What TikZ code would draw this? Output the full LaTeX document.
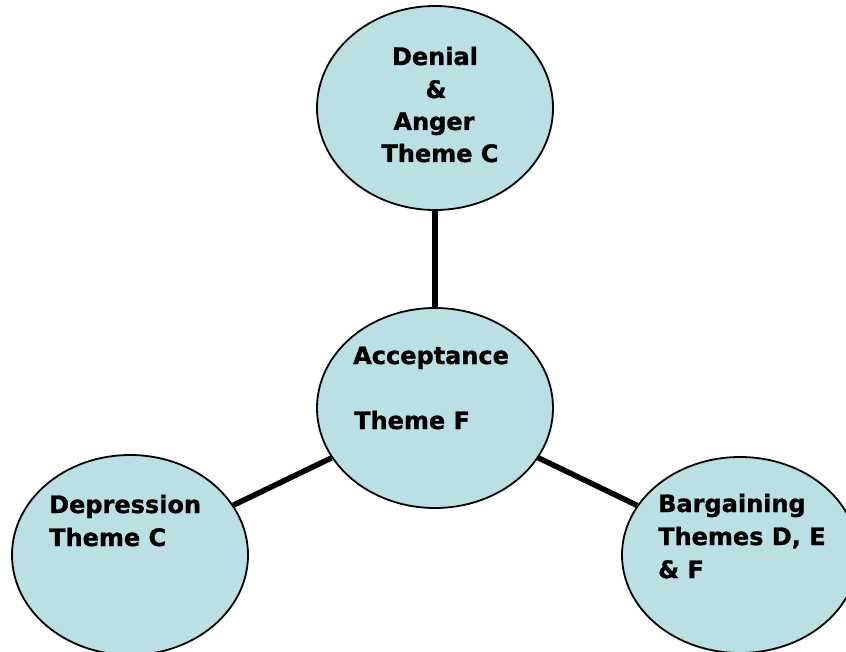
\documentclass[tikz,border=0pt]{standalone}
\usepackage{fontspec}
\setmainfont{DejaVu Sans}[BoldFeatures={FakeBold=1.2}]
\usetikzlibrary{shapes.geometric}
\definecolor{stagefill}{HTML}{BBE0E3}
\tikzset{
  stage/.style={ellipse, draw=black, line width=1.8pt, fill=stagefill, inner sep=0pt,
    minimum width=236pt, minimum height=200pt},
  link/.style={line width=5.5pt, black},
  lbl/.style={font=\fontsize{24}{32.5}\selectfont\bfseries, inner sep=0pt, text=black},
}
\begin{document}
\begin{tikzpicture}[x=1pt,y=-1pt]
\clip (0,0) rectangle (846,652);
\fill[white] (0,0) rectangle (846,652);
% ellipses
\node[stage, minimum height=204pt] (top) at (435,108) {};
\node[stage] (mid) at (435,408) {};
\node[stage] (left) at (130,555) {};
\node[stage, minimum height=196pt] (right) at (740,555) {};
% connectors
\draw[link] (top) -- (mid);
\draw[link] (mid) -- (left);
\draw[link] (mid) -- (right);
% top labels
\node[lbl, anchor=base] (t1) at (435,65) {Denial};
\node[lbl, anchor=base] (t2) at (436,98) {\&};
\node[lbl, anchor=base] (t3) at (434,130) {Anger};
\node[lbl, anchor=base] (t4) at (440,162) {Theme C};
% middle labels
\node[lbl, anchor=base west] (m1) at (353,364) {Acceptance};
\node[lbl, anchor=base west] (m2) at (354,429) {Theme F};
% left labels
\node[lbl, anchor=base west] (l1) at (49,513) {Depression};
\node[lbl, anchor=base west] (l2) at (49,546) {Theme C};
% right labels
\node[lbl, anchor=base west] (r1) at (658,512) {Bargaining};
\node[lbl, anchor=base west] (r2) at (658,545) {Themes D, E};
\node[lbl, anchor=base west] (r3) at (658,578) {\& F};
\end{tikzpicture}
\end{document}
